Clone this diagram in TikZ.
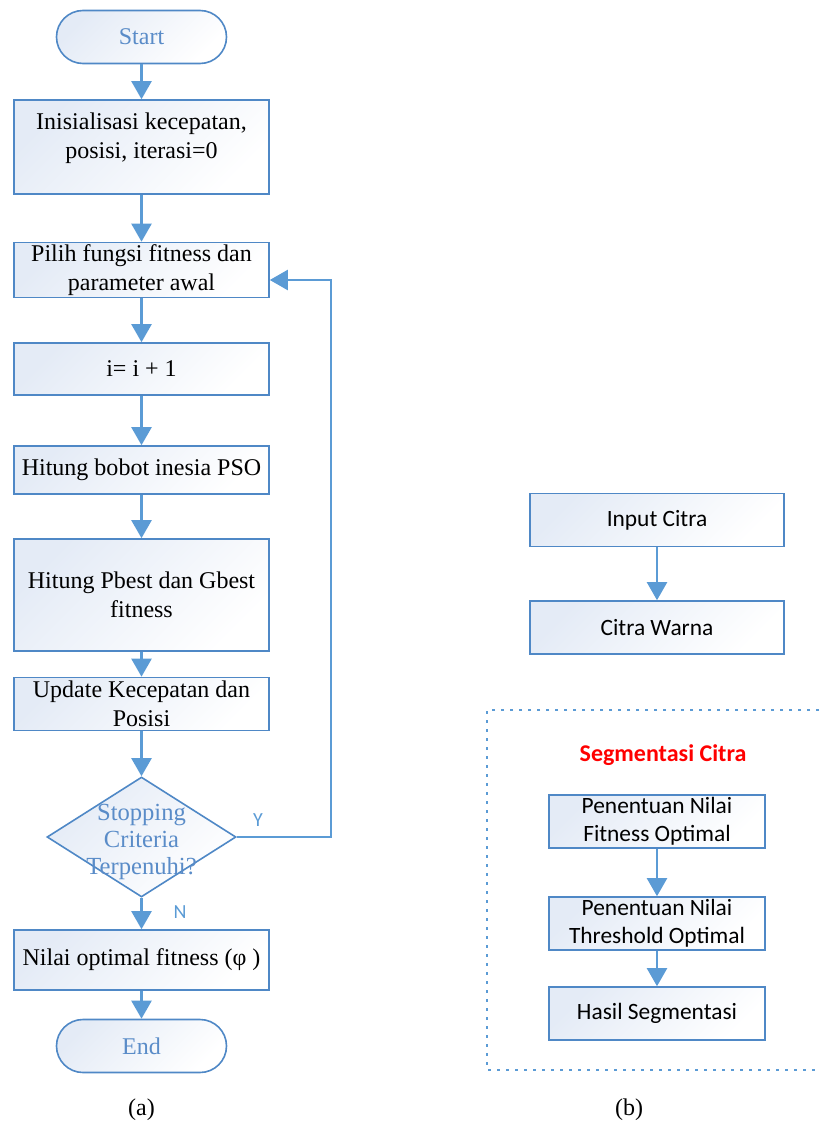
\documentclass[tikz,border=0pt]{standalone}
\usepackage{fontspec}
\setmainfont{Liberation Serif}
\newfontfamily\calfont{Carlito}
\usetikzlibrary{shapes.geometric, arrows.meta}

\definecolor{lineblue}{HTML}{5B9BD5}
\definecolor{edgeblue}{HTML}{4F88C6}
\definecolor{textblue}{HTML}{5A8CC8}
\definecolor{boxfill}{HTML}{E4EBF6}

\begin{document}
\begin{tikzpicture}[x=0.5pt, y=-0.5pt, font=\fontsize{12}{14.5}\selectfont]
        \tikzstyle{procbox} = [rectangle, draw=edgeblue, line width=0.8pt, top color=boxfill, bottom color=white, shading angle=45, minimum width=127.5pt, align=center, inner sep=1pt]
        \tikzstyle{termbox} = [procbox, rounded corners=13.25pt, minimum width=85pt, minimum height=26.5pt, text=textblue]
        \tikzstyle{decbox} = [diamond, draw=edgeblue, line width=0.8pt, top color=boxfill, bottom color=white, shading angle=45, minimum width=94.5pt, minimum height=60pt, inner sep=0pt]
        \tikzstyle{sansbox} = [procbox, font=\calfont\fontsize{11.7}{14}\selectfont, minimum width=108pt, minimum height=26.5pt]
        \tikzstyle{arrow} = [draw=lineblue, line width=1.1pt, -{Triangle[width=10pt,length=9pt]}]
        \tikzstyle{yn} = [font=\calfont\fontsize{10}{11}\selectfont, text=lineblue]

        \useasboundingbox (0,0) rectangle (819,1129);

        % Nodes (a)
        \node (start) [termbox] at (141.5,37) {Start};
        \node (init) [procbox, minimum height=47pt, below of=start, node distance=55pt] {Inisialisasi kecepatan,\\ posisi, iterasi=0\\[-3pt]~};
        \node (pilih) [procbox, minimum height=26pt, below of=init, node distance=61.5pt] {Pilih fungsi fitness dan\\ parameter awal};
        \node (iter) [procbox, minimum height=26pt, below of=pilih, node distance=49.5pt] {i= i + 1};
        \node (bobot) [procbox, minimum height=24pt, below of=iter, node distance=50.5pt] {Hitung bobot inesia PSO};
        \node (best) [procbox, minimum height=56pt, below of=bobot, node distance=62.5pt] {Hitung Pbest dan Gbest\\ fitness};
        \node (update) [procbox, minimum height=26.5pt, below of=best, node distance=54.5pt] {Update Kecepatan dan\\ Posisi};
        \node (stop) [decbox, below of=update, node distance=66.5pt, label={[align=center, text=textblue, font=\fontsize{12.3}{13.6}\selectfont, yshift=-2.5pt]center:Stopping\\ Criteria\\ Terpenuhi?}] {};
        \node (nilai) [procbox, minimum height=30pt, below of=stop, node distance=61.5pt] {Nilai optimal fitness (φ )};
        \node (end) [termbox, below of=nilai, node distance=43pt] {End};
        \node (capa) at (141.5,1110) {(a)};

        \coordinate (looptop) at (331,280);
        \node (ylabel) [yn] at (258,820) {Y};
        \node (nlabel) [yn] at (180,912) {N};

        % Nodes (b)
        \node (input) [sansbox, minimum width=127pt] at (657,520) {Input Citra};
        \node (warna) [sansbox, minimum width=127pt, below of=input, node distance=53.75pt] {Citra Warna};
        \node (segtitle) [font=\calfont\bfseries\fontsize{12}{14}\selectfont, text=red] at (663,755) {Segmentasi Citra};
        \node (fitopt) [sansbox, at={(657,821.5)}] {Penentuan Nilai\\ Fitness Optimal};
        \node (thropt) [sansbox, below of=fitopt, node distance=51pt] {Penentuan Nilai\\ Threshold Optimal};
        \node (hasil) [sansbox, below of=thropt, node distance=45pt] {Hasil Segmentasi};
        \node (capb) at (629,1110) {(b)};

        % Dotted frame
        \draw [lineblue, line width=1.3pt, dash pattern=on 1.3pt off 3.2pt] (819,710) -- (487,710) -- (487,1070) -- (819,1070);

        % Arrows
        \draw [arrow] (start) -- (init);
        \draw [arrow] (init) -- (pilih);
        \draw [arrow] (pilih) -- (iter);
        \draw [arrow] (iter) -- (bobot);
        \draw [arrow] (bobot) -- (best);
        \draw [arrow] (best) -- (update);
        \draw [arrow] (update) -- (stop);
        \draw [arrow] (stop) -- (nilai);
        \draw [arrow] (nilai) -- (end);
        \draw [arrow] (stop.east) -| (looptop) -- (pilih.east |- looptop);

        \draw [arrow] (input) -- (warna);
        \draw [arrow] (fitopt) -- (thropt);
        \draw [arrow] (thropt) -- (hasil);

    \end{tikzpicture}
\end{document}
